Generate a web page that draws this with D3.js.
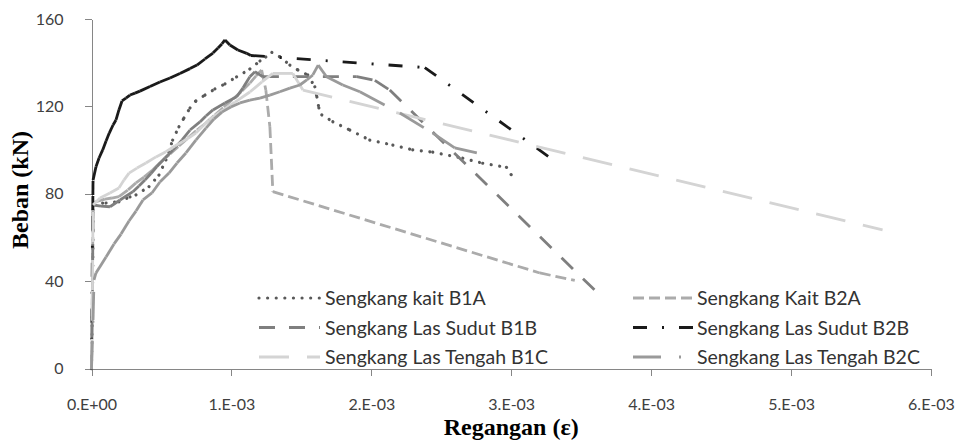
<!DOCTYPE html>
<html>
<head>
<meta charset="utf-8">
<script src="https://cdn.jsdelivr.net/npm/d3@7"></script>
<style>
  html, body { margin: 0; padding: 0; background: #fff; }
  svg { display: block; }
  .axis text { font-family: Lato, "Open Sans", sans-serif; font-size: 16px; fill: #404040; }
  .legend text { font-family: Lato, "Open Sans", sans-serif; font-size: 19.5px; fill: #333; }
  .title { font-family: "Liberation Serif", "Times New Roman", serif; font-weight: bold; font-size: 24px; fill: #000; }
</style>
</head>
<body>
<div id="chart"></div>
<script>
// strain in units of 1E-03, load in kN
var strainB1A = [0, 0.007, 0.011, 0.011, 0.018, 0.104, 0.196, 0.275, 0.318, 0.411, 0.482, 0.532, 0.580, 0.625, 0.661, 0.704, 0.746, 0.811, 0.882, 0.954, 1.037, 1.132, 1.204, 1.246, 1.289, 1.346, 1.418, 1.475, 1.546, 1.596, 1.611, 1.625, 1.646, 1.725, 1.846, 1.989, 2.154, 2.296, 2.439, 2.654, 2.796, 2.966, 3.001];
var loadB1A = [0, 31.4, 63.5, 72.6, 75.8, 75.8, 76.4, 78.6, 79.5, 83.3, 88.6, 95.5, 104.6, 110.7, 114.7, 119.3, 122.5, 125.2, 128.0, 130.3, 133.5, 137.1, 140.8, 142.6, 144.7, 142.7, 138.9, 136.7, 134.4, 129.0, 124.3, 119.3, 116.1, 113.0, 109.2, 104.6, 102.3, 100.1, 99.1, 96.3, 94.0, 92.1, 88.6];

var strainB2A = [0, 0.007, 0.011, 0.032, 0.096, 0.146, 0.196, 0.261, 0.318, 0.375, 0.437, 0.496, 0.561, 0.625, 0.689, 0.754, 0.818, 0.882, 0.946, 1.011, 1.075, 1.132, 1.175, 1.216, 1.246, 1.275, 1.296, 3.204, 3.454];
var loadB2A = [0, 40.6, 75.8, 76.4, 77.6, 78.1, 78.7, 81.8, 85.0, 87.7, 90.9, 94.6, 98.2, 101.9, 105.5, 109.2, 112.4, 116.1, 119.7, 123.4, 127.0, 130.7, 133.9, 136.7, 127.5, 110.6, 81.0, 43.8, 40.4];

var strainB1B = [0, 0.007, 0.011, 0.068, 0.132, 0.204, 0.296, 0.339, 0.382, 0.425, 0.466, 0.525, 0.582, 0.646, 0.704, 0.775, 0.818, 0.868, 0.954, 1.037, 1.082, 1.132, 1.168, 1.225, 1.896, 2.025, 2.132, 3.639];
var loadB1B = [0, 36.0, 74.9, 74.4, 74.1, 77.2, 81.0, 83.6, 86.3, 89.3, 92.4, 96.4, 100.1, 104.6, 109.2, 112.9, 115.6, 118.4, 121.6, 124.4, 128.4, 133.6, 135.9, 133.6, 133.6, 131.9, 127.5, 33.3];

var strainB2B = [0, 0.007, 0.009, 0.010, 0.011, 0.032, 0.054, 0.080, 0.104, 0.127, 0.154, 0.175, 0.196, 0.218, 0.246, 0.275, 0.311, 0.346, 0.418, 0.489, 0.561, 0.632, 0.704, 0.754, 0.811, 0.868, 0.904, 0.932, 0.954, 0.989, 1.046, 1.109, 1.139, 2.382, 3.311];
var loadB2B = [0, 63.5, 72.6, 79.5, 86.3, 92.4, 96.4, 100.1, 104.2, 107.8, 111.5, 113.8, 118.4, 122.5, 123.8, 125.2, 126.1, 127.0, 129.1, 131.2, 133.0, 135.1, 137.3, 138.9, 141.7, 144.4, 146.7, 148.6, 150.4, 148.1, 145.8, 144.3, 143.3, 137.8, 95.0];

var strainB1C = [0, 0.007, 0.011, 0.061, 0.132, 0.196, 0.232, 0.268, 0.325, 0.389, 0.461, 0.532, 0.596, 0.651, 0.704, 0.746, 0.796, 0.839, 0.918, 1.025, 1.132, 1.218, 1.296, 1.439, 1.511, 5.654];
var loadB1C = [0, 36.0, 74.9, 78.1, 80.4, 82.7, 86.3, 89.5, 91.8, 94.1, 96.9, 99.3, 101.9, 103.9, 106.0, 107.8, 111.0, 113.8, 117.4, 122.0, 126.6, 131.2, 135.1, 135.1, 127.5, 63.5];

var strainB2C = [0, 0.011, 0.018, 0.032, 0.104, 0.161, 0.211, 0.268, 0.318, 0.368, 0.432, 0.489, 0.554, 0.611, 0.675, 0.746, 0.818, 0.875, 0.932, 0.996, 1.061, 1.132, 1.204, 1.275, 1.346, 1.418, 1.489, 1.539, 1.582, 1.620, 1.680, 1.796, 1.918, 2.204, 2.439, 2.596, 2.754];
var loadB2C = [0, 22.3, 40.6, 43.8, 51.1, 57.1, 61.6, 67.6, 72.1, 77.2, 80.4, 85.4, 89.5, 94.1, 98.7, 104.6, 110.1, 114.2, 117.4, 119.7, 121.6, 122.9, 123.8, 125.2, 126.7, 128.4, 129.8, 132.1, 134.4, 138.9, 133.6, 129.8, 126.7, 117.0, 107.8, 101.0, 98.7];

var seriesNames = ["Sengkang kait B1A", "Sengkang Kait B2A", "Sengkang Las Sudut B1B",
    "Sengkang Las Sudut B2B", "Sengkang Las Tengah B1C", "Sengkang Las Tengah B2C"];

var xTickValues = [0, 1, 2, 3, 4, 5, 6];
var xTickLabels = ["0.E+00", "1.E-03", "2.E-03", "3.E-03", "4.E-03", "5.E-03", "6.E-03"];
var yTickValues = [0, 40, 80, 120, 160];

(function(){
    "use strict";
    var width = 961, height = 440;

    //series styles, same order as Excel draws them
    var series = [
        {name: seriesNames[0], strain: strainB1A, load: loadB1A, color: '#595959', dash: '0.01,8.6', cap: 'round'},
        {name: seriesNames[1], strain: strainB2A, load: loadB2A, color: '#ababab', dash: '11,5', cap: 'butt'},
        {name: seriesNames[2], strain: strainB1B, load: loadB1B, color: '#7f7f7f', dash: '16,14', cap: 'butt'},
        {name: seriesNames[3], strain: strainB2B, load: loadB2B, color: '#1a1a1a', dash: '14,15,2,15', cap: 'butt'},
        {name: seriesNames[4], strain: strainB1C, load: loadB1C, color: '#d4d4d4', dash: '30,18', cap: 'butt'},
        {name: seriesNames[5], strain: strainB2C, load: loadB2C, color: '#9a9a9a', dash: '28,18,2,18', cap: 'butt'}
    ];

    var x = d3.scaleLinear().domain([0, 6]).range([91.5, 931]);
    var y = d3.scaleLinear().domain([0, 160]).range([368.7, 19]);

    var svg = d3.select('#chart').append('svg')
        .attr('width', width)
        .attr('height', height);

    //axes
    svg.append('g')
        .attr('class', 'axis')
        .attr('transform', 'translate(' + x(0) + ',0)')
        .call(d3.axisLeft(y).tickValues(yTickValues).tickSize(7).tickSizeOuter(0).tickPadding(21));
    svg.append('g')
        .attr('class', 'axis')
        .attr('transform', 'translate(0,' + y(0) + ')')
        .call(d3.axisBottom(x).tickValues(xTickValues).tickSize(7).tickSizeOuter(0).tickPadding(23)
            .tickFormat(function(d, i){ return xTickLabels[i]; }));
    svg.selectAll('.axis path, .axis line')
        .attr('stroke', '#868686')
        .attr('stroke-width', 1)
        .attr('shape-rendering', 'crispEdges');

    //lines: Excel restarts the dash pattern on every segment, so draw them one by one
    var plot = svg.append('g').attr('class', 'lines');
    series.forEach(function(s){
        var segs = d3.pairs(d3.zip(s.strain, s.load));
        plot.append('g')
            .selectAll('line')
            .data(segs)
            .enter().append('line')
            .attr('x1', function(d){ return x(d[0][0]); })
            .attr('y1', function(d){ return y(d[0][1]); })
            .attr('x2', function(d){ return x(d[1][0]); })
            .attr('y2', function(d){ return y(d[1][1]); })
            .attr('stroke', s.color)
            .attr('stroke-width', s.cap === 'round' ? 3.2 : 2.8)
            .attr('stroke-dasharray', s.dash)
            .attr('stroke-linecap', s.cap)
            .attr('fill', 'none');
    });

    //legend, filled row by row in two columns
    var legend = svg.append('g').attr('class', 'legend');
    var colLine = [259, 633], colText = [325, 697], rowY = [298, 327.5, 357];
    series.forEach(function(s, i){
        var c = i % 2, r = Math.floor(i / 2);
        var item = legend.append('g');
        item.append('line')
            .attr('x1', colLine[c]).attr('x2', colLine[c] + 61)
            .attr('y1', rowY[r]).attr('y2', rowY[r])
            .attr('stroke', s.color)
            .attr('stroke-width', s.cap === 'round' ? 3.2 : 2.8)
            .attr('stroke-dasharray', s.dash)
            .attr('stroke-linecap', s.cap);
        item.append('text')
            .attr('x', colText[c])
            .attr('y', rowY[r])
            .attr('dy', '0.36em')
            .text(s.name);
    });

    //axis titles
    svg.append('text')
        .attr('class', 'title')
        .attr('text-anchor', 'middle')
        .attr('x', x(3))
        .attr('y', 435)
        .text('Regangan (\u03b5)');
    svg.append('text')
        .attr('class', 'title')
        .attr('text-anchor', 'middle')
        .attr('transform', 'translate(28,' + 190 + ') rotate(-90)')
        .text('Beban (kN)');
})();
</script>
</body>
</html>
